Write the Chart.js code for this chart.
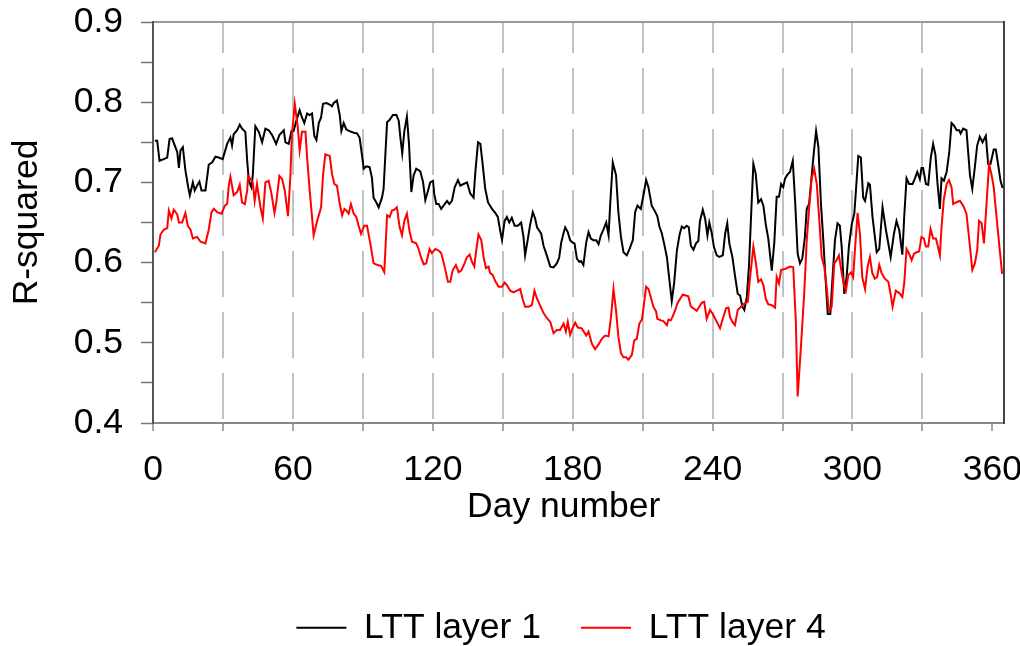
<!DOCTYPE html>
<html lang="en">
<head>
<meta charset="UTF-8">
<title>R-squared by day</title>
<script src="https://cdn.jsdelivr.net/npm/chart.js"></script>
<style>
    body { margin: 0; background: #fff; }
    #wrap { width: 1020px; height: 646px; }
</style>
</head>
<body>
<div id="wrap"><canvas id="r2Chart"></canvas></div>
<script>
// day numbers and R-squared values
var days1 = [0.8,1.8,2.8,4.6,6.1,7.1,8.2,9.6,10.4,11.1,11.8,12.8,13.9,15.1,15.8,17.1,17.9,18.9,19.9,20.8,22.5,23.9,25.4,26.8,28.2,29.9,31.8,33.2,33.9,34.6,36.1,37.2,38.2,39.6,40.4,41.1,42.2,42.8,43.9,45.4,46.8,48.2,49.6,51.1,52.8,54.2,56.1,56.8,58.2,59.4,60.3,61.5,62.9,63.9,64.9,66.1,67.2,68.2,69.2,70.1,71.1,72.1,72.9,74.4,75.8,76.8,77.5,78.9,80.1,80.8,81.8,82.9,84.3,86.1,87.5,88.6,89.6,90.4,91.5,92.9,93.9,94.6,95.8,96.8,98.2,98.9,99.6,100.4,101.5,102.9,104.4,105.4,106.1,106.9,107.8,108.9,109.8,110.8,111.8,112.9,114.6,115.8,116.8,117.8,118.9,120.1,120.6,121.5,122.5,123.6,125.1,126.1,127.1,128.2,129.4,130.8,131.8,133.2,134.7,136.1,137.5,138.2,139.4,140.4,141.3,142.5,143.7,145.4,146.8,147.9,148.9,149.7,150.8,151.8,152.8,153.9,155.1,156.5,157.9,158.9,159.6,160.8,161.8,162.9,163.9,164.7,166.5,167.5,168.9,170.4,171.8,173.2,174.2,175.1,176.1,176.8,177.9,178.9,179.9,180.8,181.8,182.8,183.6,184.6,185.8,186.8,187.8,188.9,190.1,191.1,192.1,193.2,194.4,195.4,196.1,197.2,198.6,199.6,200.7,201.8,203.2,204.4,205.8,206.8,207.8,209.2,210.3,211.5,212.5,213.9,214.9,216.3,217.2,218.2,219.2,220.4,221.5,222.5,223.5,224.7,225.8,226.8,227.8,228.9,229.8,230.7,231.8,232.9,233.9,234.6,235.8,236.8,237.8,238.6,239.7,240.6,241.8,242.9,244.4,245.4,246.3,247.2,248.5,249.6,250.8,251.8,252.8,253.6,254.7,255.6,256.8,257.5,258.5,259.6,260.8,261.8,262.8,263.9,265.4,266.5,267.5,268.5,269.4,270.3,271.1,272.2,273.2,274.4,275.4,276.5,277.5,278.5,279.6,280.4,281.4,282.5,283.6,284.4,285.4,286.5,287.5,288.5,289.4,290.5,291.3,292.5,293.6,294.6,295.4,296.5,297.5,298.5,299.7,300.8,301.5,302.5,303.6,304.6,305.4,306.8,307.5,308.6,310.4,311.5,312.9,314.4,316.4,317.8,318.9,320.1,321.4,322.2,323.2,324.3,325.8,326.8,327.8,328.9,329.6,330.3,331.5,332.5,333.6,334.6,335.6,336.5,337.5,338.2,339.2,340.4,341.5,342.5,343.5,344.7,345.8,346.4,347.5,348.9,349.6,350.4,351.4,352.5,353.5,354.6,355.8,357.2,358.2,359.2,360.6,361.5,362.5,363.5,364.4];
var layer1 = [0.752,0.752,0.727,0.729,0.731,0.754,0.755,0.744,0.738,0.718,0.740,0.744,0.715,0.694,0.684,0.700,0.690,0.696,0.701,0.690,0.690,0.722,0.725,0.732,0.731,0.729,0.748,0.756,0.746,0.760,0.765,0.772,0.767,0.763,0.727,0.702,0.694,0.709,0.770,0.763,0.750,0.767,0.765,0.759,0.748,0.759,0.765,0.750,0.748,0.764,0.764,0.777,0.790,0.781,0.774,0.786,0.784,0.786,0.758,0.753,0.774,0.781,0.798,0.799,0.797,0.795,0.799,0.802,0.784,0.764,0.774,0.766,0.764,0.762,0.761,0.756,0.735,0.717,0.720,0.719,0.706,0.681,0.675,0.669,0.681,0.692,0.731,0.775,0.778,0.784,0.784,0.777,0.756,0.736,0.764,0.782,0.748,0.688,0.709,0.717,0.714,0.701,0.678,0.688,0.700,0.702,0.686,0.673,0.673,0.667,0.673,0.677,0.673,0.677,0.694,0.703,0.696,0.698,0.700,0.686,0.681,0.711,0.750,0.748,0.725,0.692,0.675,0.667,0.662,0.657,0.640,0.628,0.652,0.657,0.650,0.656,0.646,0.646,0.650,0.632,0.609,0.630,0.648,0.663,0.655,0.644,0.636,0.621,0.609,0.595,0.594,0.599,0.606,0.625,0.637,0.644,0.638,0.628,0.625,0.624,0.605,0.601,0.602,0.597,0.625,0.638,0.630,0.628,0.628,0.623,0.634,0.641,0.650,0.634,0.673,0.725,0.709,0.663,0.632,0.613,0.609,0.617,0.628,0.663,0.671,0.667,0.683,0.703,0.694,0.671,0.666,0.658,0.645,0.637,0.624,0.607,0.578,0.552,0.574,0.615,0.634,0.645,0.643,0.646,0.644,0.621,0.616,0.624,0.627,0.652,0.666,0.655,0.634,0.650,0.636,0.619,0.609,0.607,0.609,0.636,0.649,0.624,0.607,0.584,0.561,0.559,0.545,0.541,0.557,0.595,0.677,0.723,0.711,0.675,0.679,0.671,0.648,0.630,0.590,0.626,0.682,0.682,0.698,0.694,0.705,0.710,0.713,0.727,0.677,0.611,0.599,0.605,0.632,0.667,0.673,0.708,0.742,0.764,0.744,0.673,0.628,0.578,0.536,0.536,0.574,0.628,0.649,0.646,0.619,0.561,0.582,0.621,0.648,0.661,0.690,0.733,0.731,0.681,0.677,0.699,0.697,0.657,0.613,0.617,0.669,0.640,0.607,0.636,0.652,0.640,0.610,0.657,0.705,0.698,0.698,0.705,0.713,0.704,0.718,0.718,0.698,0.697,0.731,0.748,0.734,0.698,0.667,0.705,0.702,0.713,0.737,0.774,0.771,0.765,0.765,0.761,0.767,0.765,0.739,0.709,0.692,0.719,0.746,0.757,0.750,0.758,0.723,0.723,0.741,0.741,0.722,0.702,0.693];

var days4 = [0.8,2.5,3.2,4.6,6.1,6.8,7.9,8.9,10.4,11.1,12.5,13.9,14.9,16.1,17.1,18.9,20.4,22.5,23.9,25.1,26.1,27.5,29.4,30.8,31.8,32.5,33.2,34.6,36.1,37.2,38.2,39.4,40.4,40.8,41.8,42.8,43.6,44.6,46.1,47.1,48.2,49.6,50.8,52.1,52.9,54.2,55.4,56.5,57.9,58.9,59.6,60.8,62.1,62.9,63.9,65.4,66.1,67.2,68.9,70.4,72.1,72.9,73.9,75.8,76.8,77.8,78.9,80.1,81.1,82.1,82.9,83.9,84.9,86.1,87.2,88.2,89.2,90.6,91.8,93.2,94.6,96.3,97.8,99.2,100.4,101.5,102.5,103.5,104.6,105.8,106.8,107.8,108.9,110.1,111.1,112.9,113.9,114.9,116.1,117.2,118.6,119.6,121.1,122.5,123.6,125.1,126.5,127.5,128.5,129.9,131.1,132.2,133.6,134.7,135.8,136.8,137.8,138.5,139.6,140.8,141.8,142.8,143.9,144.6,145.6,146.8,148.2,149.7,150.8,151.8,153.2,154.6,156.1,157.5,158.5,159.6,161.1,162.5,163.6,164.7,166.1,167.5,168.9,170.4,171.8,173.2,174.6,176.1,177.1,177.9,178.9,179.9,181.1,182.2,183.9,185.8,186.8,188.2,189.6,191.1,192.5,193.9,195.4,196.4,197.5,198.6,199.6,200.7,201.8,202.9,203.9,205.4,206.4,207.5,208.6,209.7,210.6,211.5,212.5,213.5,214.6,215.8,216.3,217.8,218.9,220.4,221.1,222.1,222.9,223.9,224.9,226.1,227.2,228.6,229.6,230.7,231.8,233.2,234.3,235.4,236.4,237.5,238.9,240.1,241.5,243.2,244.4,245.8,246.8,247.5,248.5,249.6,250.8,252.2,253.6,255.1,256.1,257.5,258.6,259.6,260.8,261.8,262.8,263.9,265.4,266.8,267.5,268.5,269.4,271.1,273.2,274.6,275.7,276.5,277.9,279.3,280.4,281.4,282.5,283.6,284.7,285.8,286.8,287.9,288.9,289.9,291.1,292.2,293.2,294.2,295.4,296.5,297.2,298.2,299.4,300.3,301.1,302.2,303.2,304.2,305.4,306.5,307.5,308.5,309.6,310.6,311.5,312.5,313.9,315.4,316.4,317.2,318.6,320.1,321.4,322.2,323.2,324.3,325.4,326.4,327.5,328.6,329.6,330.6,331.5,332.5,333.5,334.6,335.8,336.5,337.5,338.2,339.2,340.4,341.4,342.5,343.2,344.4,346.1,347.5,348.9,350.4,351.4,352.5,353.5,354.3,355.4,356.4,357.5,358.6,359.7,360.6,361.8,363.2,364.2];
var layer4 = [0.613,0.621,0.635,0.641,0.643,0.665,0.655,0.666,0.660,0.650,0.650,0.662,0.646,0.641,0.630,0.632,0.626,0.624,0.641,0.663,0.667,0.663,0.661,0.671,0.673,0.696,0.707,0.684,0.688,0.697,0.675,0.673,0.690,0.708,0.704,0.700,0.677,0.698,0.669,0.655,0.700,0.702,0.686,0.662,0.675,0.708,0.704,0.690,0.658,0.706,0.760,0.798,0.769,0.740,0.763,0.763,0.731,0.690,0.634,0.652,0.669,0.708,0.735,0.733,0.710,0.698,0.696,0.673,0.659,0.667,0.665,0.661,0.673,0.661,0.657,0.646,0.636,0.646,0.646,0.624,0.599,0.597,0.596,0.588,0.659,0.657,0.665,0.666,0.669,0.644,0.634,0.652,0.661,0.638,0.626,0.624,0.617,0.607,0.598,0.599,0.617,0.612,0.617,0.615,0.612,0.595,0.576,0.576,0.590,0.597,0.588,0.590,0.599,0.607,0.610,0.601,0.595,0.612,0.635,0.628,0.607,0.593,0.595,0.587,0.585,0.577,0.570,0.570,0.575,0.572,0.565,0.563,0.565,0.567,0.555,0.545,0.545,0.547,0.565,0.555,0.546,0.537,0.531,0.526,0.512,0.516,0.516,0.524,0.514,0.526,0.510,0.518,0.525,0.519,0.518,0.509,0.514,0.499,0.492,0.498,0.505,0.509,0.508,0.531,0.567,0.540,0.508,0.487,0.482,0.482,0.479,0.485,0.503,0.505,0.524,0.529,0.549,0.570,0.567,0.557,0.545,0.539,0.530,0.528,0.527,0.522,0.529,0.528,0.533,0.540,0.549,0.555,0.560,0.559,0.558,0.545,0.543,0.540,0.545,0.550,0.551,0.530,0.541,0.536,0.528,0.518,0.530,0.543,0.544,0.532,0.526,0.522,0.541,0.545,0.549,0.551,0.582,0.620,0.599,0.576,0.579,0.572,0.555,0.548,0.547,0.544,0.582,0.574,0.591,0.592,0.595,0.594,0.528,0.433,0.495,0.561,0.628,0.667,0.705,0.717,0.698,0.652,0.607,0.595,0.570,0.540,0.545,0.599,0.603,0.609,0.587,0.570,0.565,0.584,0.588,0.582,0.617,0.662,0.636,0.582,0.567,0.595,0.607,0.587,0.580,0.582,0.597,0.587,0.580,0.576,0.560,0.545,0.565,0.562,0.557,0.574,0.617,0.611,0.603,0.611,0.613,0.614,0.632,0.630,0.620,0.620,0.642,0.630,0.630,0.622,0.609,0.644,0.679,0.698,0.703,0.694,0.673,0.675,0.677,0.671,0.661,0.620,0.591,0.599,0.615,0.652,0.649,0.624,0.673,0.723,0.709,0.694,0.657,0.615,0.586];

var seriesNames = ['LTT layer 1', 'LTT layer 4'];
var seriesColors = ['#000000', '#ff0000'];
var xTicksEvery = 30;   // grid + minor ticks, labels every 60
var yTicksEvery = 0.05; // minor ticks, labels every 0.1

function toPoints(xs, ys) {
    return xs.map(function(x, i) { return {x: x, y: ys[i]}; });
}

Chart.defaults.font.family = '"Liberation Sans", Arial, sans-serif';
Chart.defaults.font.size = 35.5;
Chart.defaults.color = '#000';

// legend sits lower and a bit right of the default spot
var legendPlace = {
    id: 'legendPlace',
    beforeInit: function(chart) {
        var fit = chart.legend.fit;
        chart.legend.fit = function() {
            fit.call(this);
            this.height = 76;
        };
    },
    afterLayout: function(chart) {
        chart.legend.left += 59;
        chart.legend.right += 59;
    }
};

var ctx = document.getElementById('r2Chart').getContext('2d');
var r2Chart = new Chart(ctx, {
    type: 'line',
    data: {
        datasets: [{
            label: seriesNames[0],
            data: toPoints(days1, layer1),
            borderColor: seriesColors[0],
            backgroundColor: seriesColors[0],
            borderWidth: 2,
            pointRadius: 0,
            tension: 0,
            order: 2
        }, {
            label: seriesNames[1],
            data: toPoints(days4, layer4),
            borderColor: seriesColors[1],
            backgroundColor: seriesColors[1],
            borderWidth: 2,
            pointRadius: 0,
            tension: 0,
            order: 1
        }]
    },
    options: {
        responsive: true,
        maintainAspectRatio: false,
        devicePixelRatio: 1,
        animation: false,
        layout: { padding: { top: 22, right: 16, bottom: 0, left: 0 } },
        plugins: {
            tooltip: { enabled: false },
            legend: {
                position: 'bottom',
                labels: {
                    boxWidth: 50,
                    boxHeight: 0,
                    padding: 40,
                    color: '#000',
                    font: { size: 35.5 },
                    sort: function(a, b) { return a.datasetIndex - b.datasetIndex; }
                }
            }
        },
        scales: {
            x: {
                type: 'linear',
                min: 0,
                max: 365,
                afterFit: function(s) { s.height = 147; s.paddingLeft = 0; s.paddingRight = 0; },
                ticks: {
                    stepSize: xTicksEvery,
                    includeBounds: false,
                    autoSkip: false,
                    maxRotation: 0,
                    padding: 18,
                    color: '#000',
                    callback: function(v) { return v % 60 === 0 ? String(v) : ''; }
                },
                grid: {
                    color: function(c) {
                        var v = c.tick ? c.tick.value : 0;
                        return (v > 0 && v < 360) ? '#c2c2c2' : 'rgba(0,0,0,0)';
                    },
                    lineWidth: 2,
                    tickColor: '#888',
                    tickLength: 8,
                    tickWidth: 1.5
                },
                border: { color: '#888', width: 2, dash: [46, 15], dashOffset: 15 },
                title: {
                    display: true,
                    text: 'Day number   ',
                    color: '#000',
                    font: { size: 35.5 },
                    padding: { top: 0, bottom: 41 }
                }
            },
            xTop: {
                type: 'linear',
                position: 'top',
                min: 0,
                max: 365,
                afterFit: function(s) { s.height = 0; },
                ticks: { display: false },
                grid: { display: false, drawTicks: false },
                border: { color: '#999', width: 2 }
            },
            y: {
                min: 0.4,
                max: 0.9,
                afterFit: function(s) { s.width = 153; s.paddingTop = 0; s.paddingBottom = 0; },
                ticks: {
                    stepSize: yTicksEvery,
                    autoSkip: false,
                    padding: 18,
                    color: '#000',
                    callback: function(v) {
                        var r = Math.round(v * 100);
                        return r % 10 === 0 ? (r / 100).toFixed(1) : '';
                    }
                },
                grid: {
                    drawOnChartArea: false,
                    tickLength: 12,
                    tickColor: '#777',
                    tickWidth: 1.5
                },
                border: { color: '#555', width: 2 },
                title: {
                    display: true,
                    text: 'R-squared',
                    color: '#000',
                    font: { size: 35.5 },
                    padding: { top: 6, bottom: 28 }
                }
            },
            yRight: {
                position: 'right',
                min: 0.4,
                max: 0.9,
                afterFit: function(s) { s.width = 0; s.paddingTop = 0; s.paddingBottom = 0; },
                ticks: { display: false },
                grid: { display: false, drawTicks: false },
                border: { color: '#444', width: 2 }
            }
        }
    },
    plugins: [legendPlace]
});
</script>
</body>
</html>
